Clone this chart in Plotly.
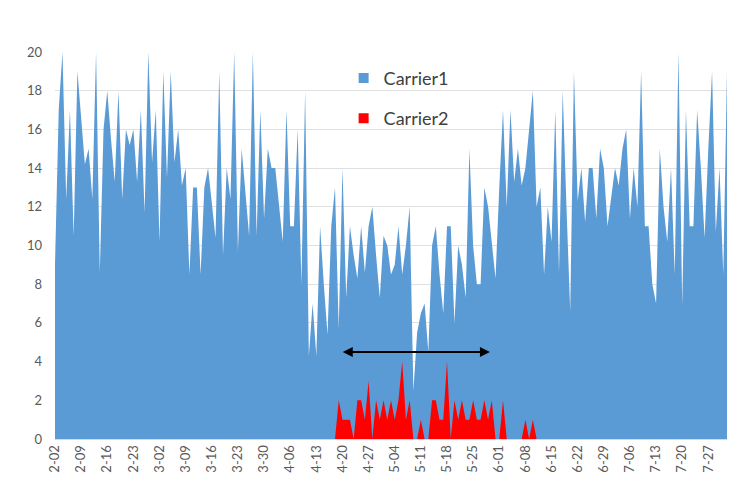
import pandas as pd
import plotly.graph_objects as go

start_date = "2019-02-02"
n_days = 181
dates = pd.date_range(start_date, periods=n_days)

carrier1 = [
    9, 17, 20, 12.4, 17, 10.5, 19, 16.5, 14.2, 15,
    12.4, 20, 8.6, 16, 18, 15.5, 13.3, 18, 12.4, 16,
    15.2, 16, 13.3, 17, 11.7, 20, 14.3, 17, 10.2, 19,
    13.5, 19, 14.3, 16, 13.1, 14, 8.5, 13, 13, 8.5,
    13, 14, 12, 10.4, 19, 9.5, 14, 12.4, 20, 9.7,
    15, 12.7, 10.5, 20, 10.5, 17, 11.4, 15, 14, 14,
    12, 10.2, 17, 11, 11, 16, 8, 18, 4.3, 7,
    4.3, 11, 8, 5.4, 11, 13, 5.7, 14, 7.3, 11,
    9.5, 8.3, 11, 8.6, 11, 12, 9.5, 7.3, 10.5, 10,
    8.5, 9, 11, 8.5, 10, 12, 2.5, 5.5, 6.5, 7,
    4.5, 10, 11, 8.5, 6.5, 11, 11, 6, 10, 9,
    7.3, 15, 10, 8, 8, 13, 12, 10, 8.3, 13,
    17, 12, 17, 13.3, 15, 13.1, 14, 16, 18, 12,
    13, 8.5, 12, 10.2, 17, 8.6, 18, 12, 6.6, 19,
    12.3, 14, 11.2, 14, 14, 11.4, 15, 14, 11, 12.5,
    14, 13.1, 15, 16, 11.4, 14, 12, 19, 11, 11,
    8, 7, 15, 12, 10.2, 14, 8.5, 20, 6.9, 17,
    11, 11, 17, 14, 10.4, 15, 19, 10.7, 14, 8.5,
    19,
]

carrier2 = (
    [0] * 75
    + [0, 2, 1, 1, 1, 0, 2, 2, 1, 3,
       0, 2, 1, 2, 1, 2, 1, 2, 4, 1,
       2, 0, 0, 1, 0, 0, 2, 2, 1, 1,
       4, 0, 2, 1, 2, 1, 1, 2, 1, 1,
       2, 1, 2, 0, 0, 2, 0, 0, 0, 0,
       0, 1, 0, 1, 0]
)
carrier2 = carrier2 + [0] * (n_days - len(carrier2))

tick_labels = ["2-02", "2-09", "2-16", "2-23", "3-02", "3-09", "3-16", "3-23",
               "3-30", "4-06", "4-13", "4-20", "4-27", "5-04", "5-11", "5-18",
               "5-25", "6-01", "6-08", "6-15", "6-22", "6-29", "7-06", "7-13",
               "7-20", "7-27"]
tick_vals = [pd.Timestamp("2019-%02d-%s" % (int(t.split("-")[0]), t.split("-")[1]))
             for t in tick_labels]

arrow_start = "2019-04-19 16:00"
arrow_end = "2019-05-29 12:00"
arrow_y = 4.5

BLUE = "#5B9BD5"
RED = "#FF0000"

fig = go.Figure()
fig.add_trace(go.Scatter(x=dates, y=carrier1, mode="lines", fill="tozeroy",
                         line=dict(width=0, color=BLUE), fillcolor=BLUE,
                         showlegend=False, hoverinfo="skip"))
fig.add_trace(go.Scatter(x=dates, y=carrier2, mode="lines", fill="tozeroy",
                         line=dict(width=0, color=RED), fillcolor=RED,
                         showlegend=False, hoverinfo="skip"))
fig.add_trace(go.Scatter(x=[None], y=[None], mode="markers", name="Carrier1",
                         marker=dict(symbol="square", size=10, color=BLUE),
                         legendgroup="a"))
fig.add_trace(go.Scatter(x=[None], y=[None], mode="markers", name="Carrier2",
                         marker=dict(symbol="square", size=10, color=RED),
                         legendgroup="b"))

fig.add_annotation(x=arrow_end, y=arrow_y, ax=arrow_start, ay=arrow_y,
                   xref="x", yref="y", axref="x", ayref="y", text="",
                   showarrow=True, arrowhead=2, arrowsize=1, arrowwidth=2,
                   arrowside="end+start", arrowcolor="black")

fig.update_layout(
    width=729, height=480,
    margin=dict(l=47, r=10, t=44, b=49),
    paper_bgcolor="white", plot_bgcolor="white",
    font=dict(family="Lato, Noto Sans, sans-serif", color="#595959"),
    showlegend=True,
    legend=dict(x=0.4295, y=0.98, xanchor="left", yanchor="top",
                bgcolor="rgba(0,0,0,0)", tracegroupgap=14,
                font=dict(size=18, color="#404040")),
)
fig.update_xaxes(
    type="date",
    range=[dates[0], dates[-1]],
    tickvals=tick_vals, ticktext=tick_labels,
    tickangle=-90, tickfont=dict(size=13, color="#595959"),
    showgrid=False, showline=True, linecolor="#D9D9D9", linewidth=1,
    ticks="", zeroline=False,
)
fig.update_yaxes(
    range=[0, 20], dtick=2, tick0=0,
    tickfont=dict(size=13, color="#595959"),
    showgrid=True, gridcolor="#E0E0E0", gridwidth=1,
    zeroline=False, showline=False, ticks="",
    ticklabelstandoff=12,
)

fig.write_html("out.html")
